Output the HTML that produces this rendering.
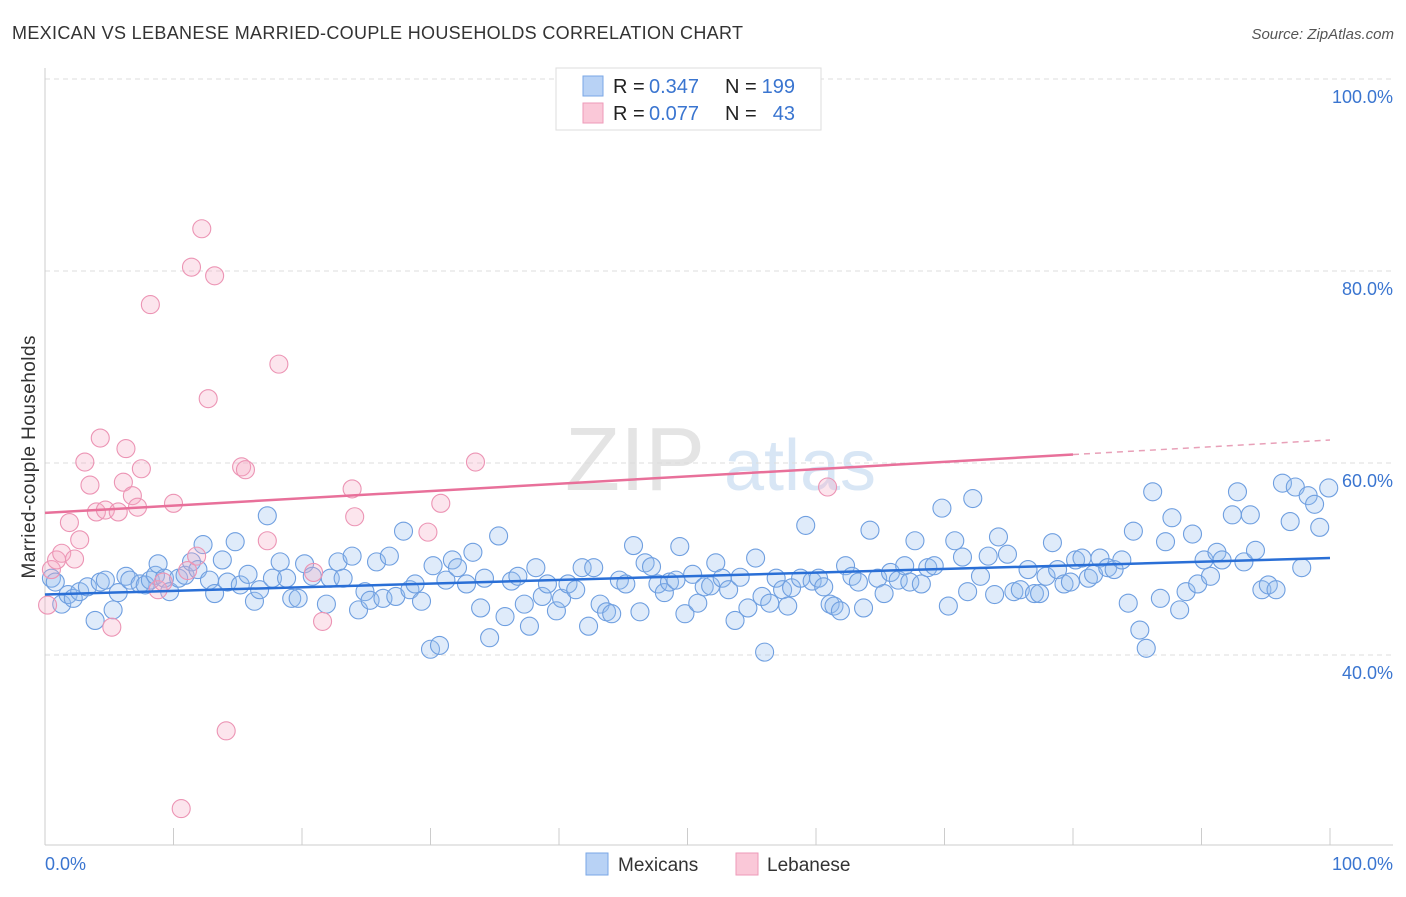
<!DOCTYPE html>
<html><head><meta charset="utf-8"><style>
body{margin:0;background:#fff;font-family:"Liberation Sans",sans-serif}
svg text{font-family:"Liberation Sans",sans-serif}
</style></head><body>
<svg id="chart" width="1406" height="892">
<text x="12" y="39" font-size="18" textLength="731" fill="#333">MEXICAN VS LEBANESE MARRIED-COUPLE HOUSEHOLDS CORRELATION CHART</text>
<text x="1394" y="39" font-size="15" fill="#555" font-style="italic" text-anchor="end">Source: ZipAtlas.com</text>
<g><text x="635" y="490" font-size="90" fill="#e4e4e4" font-family="Liberation Serif" text-anchor="middle">ZIP</text><text x="800" y="490" font-size="72" fill="#d8e6f5" text-anchor="middle">atlas</text></g>
<g id="grid"></g><g id="axes"></g><g id="pts"></g><g id="trend"></g>
<text transform="translate(35,457) rotate(-90)" font-size="19" textLength="243" fill="#333" text-anchor="middle">Married-couple Households</text>
<g>
<rect x="556" y="68" width="265" height="62" fill="#fff" stroke="#ddd"/>
<rect x="583" y="76" width="20" height="20" fill="#b8d2f5" stroke="#7aa7e6"/>
<rect x="583" y="103" width="20" height="20" fill="#fac8d8" stroke="#ee9ab8"/>
<text x="613" y="93" font-size="20" fill="#222">R =</text>
<text x="649" y="93" font-size="20" fill="#3a75d0">0.347</text>
<text x="725" y="93" font-size="20" fill="#222">N =</text>
<text x="795" y="93" font-size="20" fill="#3a75d0" text-anchor="end">199</text>
<text x="613" y="120" font-size="20" fill="#222">R =</text>
<text x="649" y="120" font-size="20" fill="#3a75d0">0.077</text>
<text x="725" y="120" font-size="20" fill="#222">N =</text>
<text x="795" y="120" font-size="20" fill="#3a75d0" text-anchor="end">43</text>
</g>
<g>
<rect x="586" y="853" width="22" height="22" fill="#b8d2f5" stroke="#7aa7e6"/>
<text x="618" y="871" font-size="19" fill="#333">Mexicans</text>
<rect x="736" y="853" width="22" height="22" fill="#fac8d8" stroke="#ee9ab8"/>
<text x="767" y="871" font-size="19" fill="#333">Lebanese</text>
</g>
</svg>
<script>
const blueX=[0.5,0.8,1.3,1.8,2.2,2.7,3.3,3.9,4.3,4.7,5.3,5.7,6.3,6.6,7.4,7.8,8.2,8.6,8.8,9.3,9.7,10.4,10.9,11.4,11.9,12.3,12.8,13.2,13.8,14.2,14.8,15.2,15.8,16.3,16.7,17.3,17.7,18.3,18.8,19.2,19.7,20.2,20.8,21.9,22.2,22.8,23.2,23.9,24.4,24.9,25.3,25.8,26.3,26.8,27.3,27.9,28.4,28.8,29.3,30.0,30.2,30.7,31.2,31.7,32.1,32.8,33.3,33.9,34.2,34.6,35.3,35.8,36.3,36.8,37.3,37.7,38.2,38.7,39.1,39.8,40.2,40.7,41.3,41.8,42.3,42.7,43.2,43.7,44.1,44.7,45.2,45.8,46.3,46.7,47.2,47.7,48.2,48.6,49.1,49.4,49.8,50.4,50.8,51.3,51.8,52.2,52.7,53.2,53.7,54.1,54.7,55.3,55.8,56.0,56.4,56.9,57.4,57.8,58.1,58.8,59.2,59.7,60.2,60.6,61.1,61.4,61.9,62.3,62.8,63.3,63.7,64.2,64.8,65.3,65.8,66.4,66.9,67.3,67.7,68.2,68.7,69.2,69.8,70.3,70.8,71.4,71.8,72.2,72.8,73.4,73.9,74.2,74.9,75.4,75.9,76.5,77.0,77.4,77.9,78.4,78.8,79.3,79.8,80.2,80.7,81.2,81.6,82.1,82.7,83.2,83.8,84.3,84.7,85.2,85.7,86.2,86.8,87.2,87.7,88.3,88.8,89.3,89.7,90.2,90.7,91.2,91.6,92.4,92.8,93.3,93.8,94.2,94.7,95.2,95.8,96.3,96.9,97.3,97.8,98.3,98.8,99.2,99.9];
const blueY=[48.0,47.6,45.3,46.3,45.9,46.6,47.1,43.6,47.6,47.8,44.7,46.5,48.2,47.8,47.4,47.3,47.8,48.3,49.5,48.0,46.6,48.0,48.3,49.7,48.9,51.5,47.8,46.4,49.9,47.6,51.8,47.3,48.4,45.6,46.8,54.5,48.0,49.7,48.0,45.9,45.9,49.5,48.2,45.3,48.0,49.7,48.0,50.3,44.7,46.6,45.7,49.7,45.9,50.3,46.1,52.9,46.8,47.4,45.6,40.6,49.3,41.0,47.8,49.9,49.1,47.4,50.7,44.9,48.0,41.8,52.4,44.0,47.7,48.2,45.3,43.0,49.1,46.1,47.4,44.6,45.9,47.4,46.8,49.1,43.0,49.1,45.3,44.5,44.3,47.8,47.4,51.4,44.5,49.6,49.2,47.4,46.5,47.6,47.8,51.3,44.3,48.4,45.4,47.1,47.2,49.6,48.0,46.8,43.6,48.1,44.9,50.1,46.1,40.3,45.4,48.0,46.8,45.1,47.0,48.0,53.5,47.7,48.0,47.1,45.3,45.1,44.6,49.3,48.2,47.6,44.9,53.0,48.0,46.4,48.6,47.8,49.3,47.6,51.9,47.4,49.1,49.3,55.3,45.1,51.9,50.2,46.6,56.3,48.2,50.3,46.3,52.3,50.5,46.6,46.8,48.9,46.4,46.4,48.2,51.7,48.9,47.4,47.6,49.9,50.1,48.0,48.4,50.1,49.1,48.9,49.9,45.4,52.9,42.6,40.7,57.0,45.9,51.8,54.3,44.7,46.6,52.6,47.4,49.9,48.2,50.7,49.9,54.6,57.0,49.7,54.6,50.9,46.8,47.3,46.8,57.9,53.9,57.5,49.1,56.6,55.7,53.3,57.4];
const pinkX=[0.2,0.5,0.9,1.3,1.9,2.3,2.7,3.1,3.5,4.0,4.3,4.7,5.2,5.7,6.1,6.3,6.8,7.2,7.5,8.2,8.8,9.2,10.0,10.6,11.1,11.4,11.8,12.2,12.7,13.2,14.1,15.3,15.6,17.3,18.2,20.9,21.6,23.9,24.1,29.8,30.8,33.5,60.9];
const pinkY=[45.2,48.9,49.9,50.6,53.8,50.0,52.0,60.1,57.7,54.9,62.6,55.1,42.9,54.9,58.0,61.5,56.6,55.4,59.4,76.5,46.8,47.6,55.8,24.0,48.8,80.4,50.3,84.4,66.7,79.5,32.1,59.6,59.3,51.9,70.3,48.6,43.5,57.3,54.4,52.8,55.8,60.1,57.5];
const blueTrend=[46.3,50.1];
const pinkTrend=[54.8,62.4];
const yTicks=[100,80,60,40];
const xTicks=[0,10,20,30,40,50,60,70,80,90,100];
const X=v=>45+v*12.85, Y=v=>79+(100-v)*9.6;
const NS='http://www.w3.org/2000/svg';
function mk(p,t,a){const e=document.createElementNS(NS,t);for(const k in a)e.setAttribute(k,a[k]);p.appendChild(e);return e;}
const grid=document.getElementById('grid'),axes=document.getElementById('axes'),pts=document.getElementById('pts'),tr=document.getElementById('trend');
yTicks.forEach(v=>{const l=mk(grid,'line',{x1:45,x2:1393,y1:Y(v),y2:Y(v),stroke:'#ddd','stroke-dasharray':'5,4'});


const t=mk(axes,'text',{x:1393,y:Y(v)+24,'font-size':18,fill:'#3a75d0','text-anchor':'end'});t.textContent=v.toFixed(1)+'%';

});
mk(axes,'line',{x1:45,x2:45,y1:68,y2:845,stroke:'#ccc'});
mk(axes,'line',{x1:45,x2:1393,y1:845,y2:845,stroke:'#ccc'});
xTicks.forEach(v=>{const l=mk(axes,'line',{x1:X(v),x2:X(v),y1:828,y2:845,stroke:'#ccc'});

});
[[0,'start',45],[100,'end',1393]].forEach(([v,a,x])=>{const t=mk(axes,'text',{x:x,y:870,'font-size':18,fill:'#3a75d0','text-anchor':a});t.textContent=v.toFixed(1)+'%';

});
blueX.forEach((v,i)=>{const c=mk(pts,'circle',{cx:X(v),cy:Y(blueY[i]),r:9,fill:'rgba(150,190,240,0.3)',stroke:'#6f9fe0','stroke-width':1.1});

});
pinkX.forEach((v,i)=>{const c=mk(pts,'circle',{cx:X(v),cy:Y(pinkY[i]),r:9,fill:'rgba(245,170,195,0.3)',stroke:'#ec94b4','stroke-width':1.1});

});
const bt=mk(tr,'line',{x1:X(0),y1:Y(blueTrend[0]),x2:X(100),y2:Y(blueTrend[1]),stroke:'#2a6fd6','stroke-width':2.5});


const pm=pinkTrend[0]+(pinkTrend[1]-pinkTrend[0])*0.8;
const pt=mk(tr,'line',{x1:X(0),y1:Y(pinkTrend[0]),x2:X(80),y2:Y(pm),stroke:'#e8709a','stroke-width':2.5});


const pd=mk(tr,'line',{x1:X(80),y1:Y(pm),x2:X(100),y2:Y(pinkTrend[1]),stroke:'#e8a0b8','stroke-width':1.5,'stroke-dasharray':'6,5'});


</script>
</body></html>
